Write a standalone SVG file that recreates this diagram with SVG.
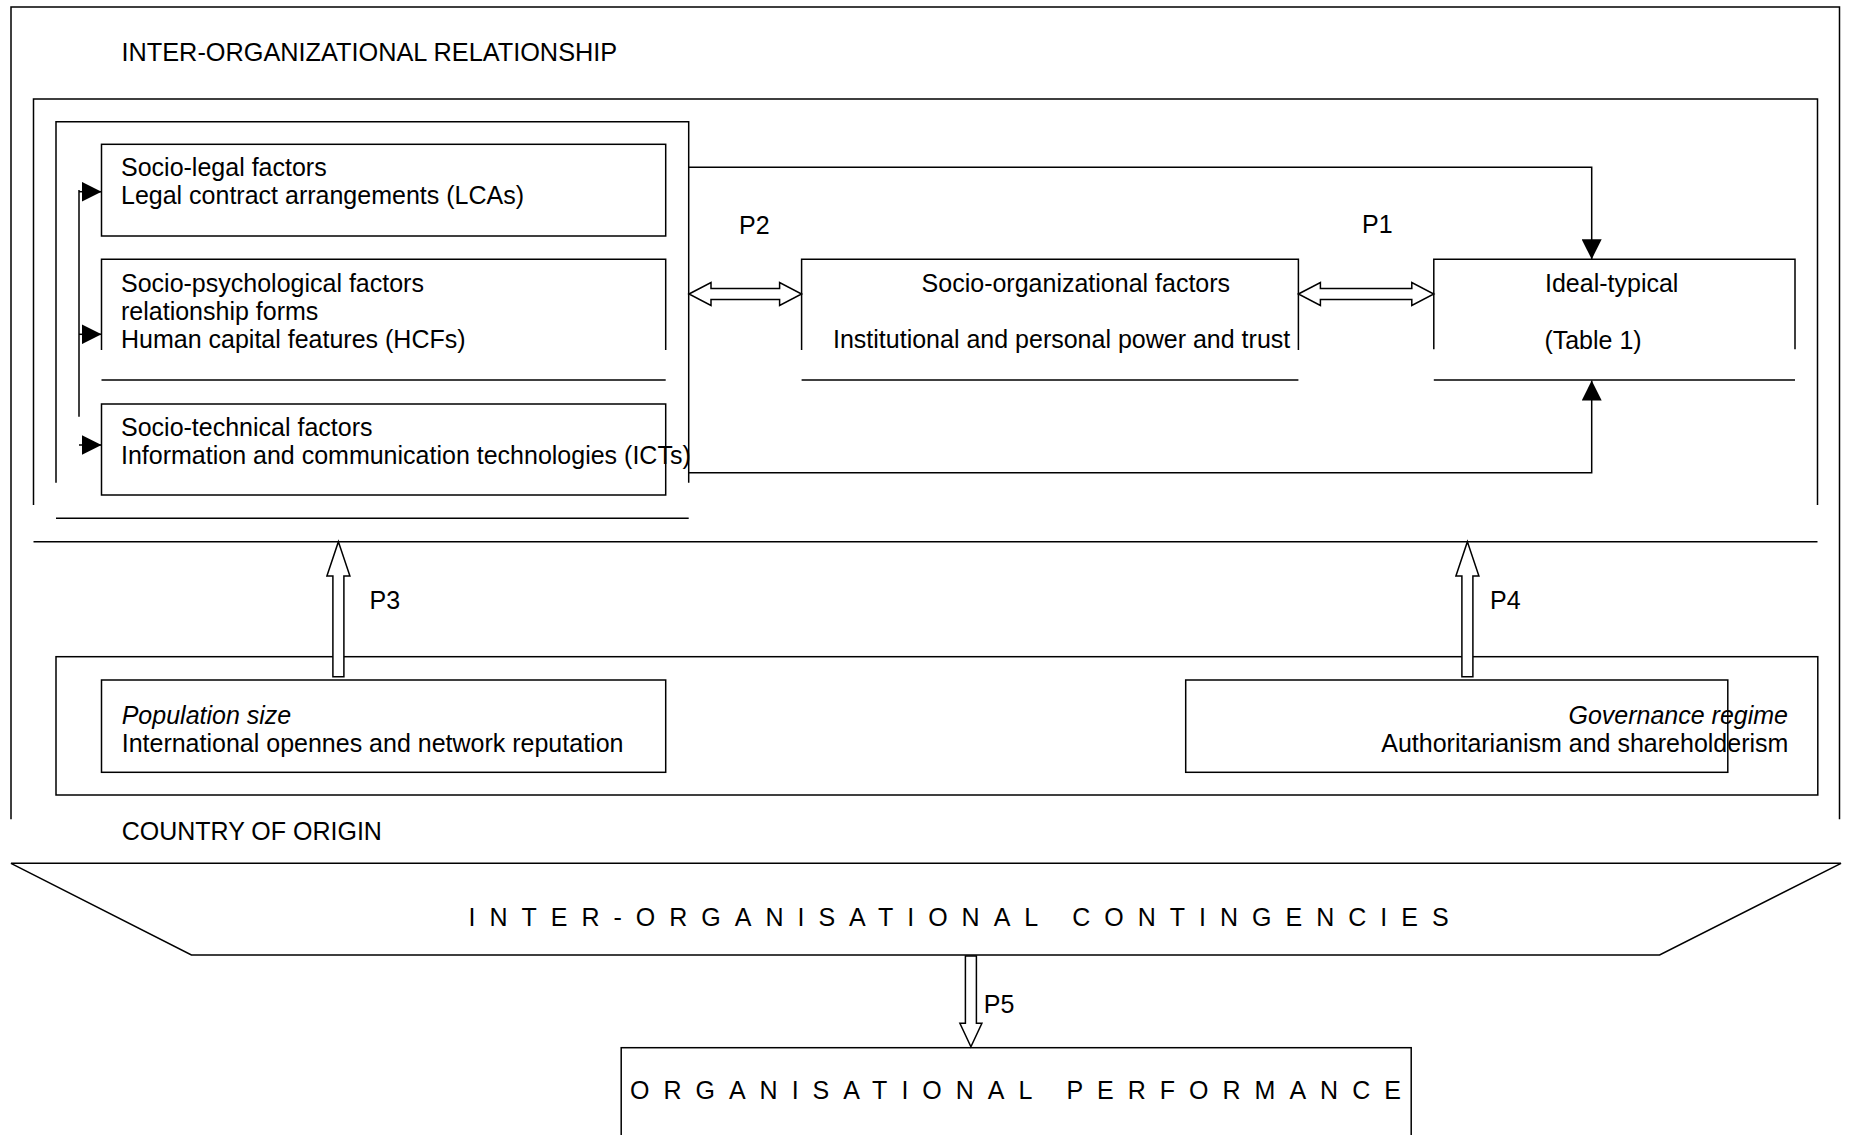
<svg xmlns="http://www.w3.org/2000/svg" width="1849" height="1135" viewBox="0 0 1849 1135">
<style>
.ln{fill:none;stroke:#000;stroke-width:1.5}
.bx{fill:none;stroke:#000;stroke-width:1.5}
.ho{fill:#fff;stroke:#000;stroke-width:1.5;stroke-linejoin:miter}
.t{font-family:"Liberation Sans",Arial,sans-serif;font-size:25px;fill:#000}
.it{font-style:italic}
.sp{letter-spacing:14px}
</style>
<defs>
<marker id="tri" markerUnits="userSpaceOnUse" markerWidth="20" markerHeight="20" viewBox="0 0 20 20" refX="20" refY="10" orient="auto">
<path d="M0,0 L20,10 L0,20 Z" fill="#000"/>
</marker>
</defs>
<rect x="0" y="0" width="1849" height="1135" fill="#fff"/>

<g id="frame-outer">
<path class="ln" d="M11,819.3 V7 H1839.5 V819.3"/>
</g>

<g id="inter-organizational-relationship">
<text class="t" x="121.5" y="60.7" style="font-size:25.3px">INTER-ORGANIZATIONAL RELATIONSHIP</text>
<path class="ln" d="M33.5,505 V99 H1817.5 V505"/>
<path class="ln" d="M33.5,541.7 H1817.5"/>
</g>

<g id="factors-group">
<path class="ln" d="M56,482.7 V121.7 H688.7 V482.7"/>
<path class="ln" d="M56,518.3 H688.7"/>
</g>

<g id="socio-legal">
<rect class="bx" x="101.5" y="144.3" width="564.2" height="91.7"/>
<text class="t" x="121" y="175.7">Socio-legal factors</text>
<text class="t" x="121" y="204.2">Legal contract arrangements (LCAs)</text>
</g>

<g id="socio-psychological">
<path class="ln" d="M101.5,350 V259.3 H665.7 V350"/>
<path class="ln" d="M101.5,380 H665.7"/>
<text class="t" x="121" y="291.7">Socio-psychological factors</text>
<text class="t" x="121" y="320">relationship forms</text>
<text class="t" x="121" y="348.3">Human capital features (HCFs)</text>
</g>

<g id="socio-technical">
<rect class="bx" x="101.5" y="404" width="564.2" height="91"/>
<text class="t" x="121" y="435.7">Socio-technical factors</text>
<text class="t" x="121" y="464.3">Information and communication technologies (ICTs)</text>
</g>

<g id="socio-organizational">
<path class="ln" d="M801.6,350 V259.3 H1298.4 V350"/>
<path class="ln" d="M801.6,380 H1298.4"/>
<text class="t" x="921.6" y="291.7">Socio-organizational factors</text>
<text class="t" x="833" y="348.3">Institutional and personal power and trust</text>
</g>

<g id="ideal-typical">
<path class="ln" d="M1433.8,349.3 V259.3 H1795 V349.3"/>
<path class="ln" d="M1433.8,380 H1795"/>
<text class="t" x="1545" y="291.7">Ideal-typical</text>
<text class="t" x="1544.4" y="349.3">(Table 1)</text>
</g>

<g id="country-of-origin">
<rect class="bx" x="56" y="656.7" width="1761.8" height="138.3"/>
<text class="t" x="121.7" y="840">COUNTRY OF ORIGIN</text>
</g>

<g id="population-size">
<rect class="bx" x="101.5" y="680" width="564.2" height="92.3"/>
<text class="t it" x="121.7" y="724">Population size</text>
<text class="t" x="121.7" y="752.3">International opennes and network reputation</text>
</g>

<g id="governance-regime">
<rect class="bx" x="1185.7" y="680" width="542.1" height="92.3"/>
<text class="t it" x="1788" y="724" text-anchor="end">Governance regime</text>
<text class="t" x="1788.4" y="752.3" text-anchor="end">Authoritarianism and shareholderism</text>
</g>

<g id="inter-organisational-contingencies">
<polygon class="bx" points="11,863.3 1841,863.3 1659.6,955 191.4,955"/>
<text class="t sp" x="468.5" y="926">INTER-ORGANISATIONAL CONTINGENCIES</text>
</g>

<g id="organisational-performance">
<rect class="bx" x="621.2" y="1047.7" width="790" height="100"/>
<text class="t sp" x="630" y="1099.3">ORGANISATIONAL PERFORMANCE</text>
</g>

<g id="connectors">
<path class="ln" d="M79,190 V416.7"/>
<path class="ln" d="M79,191.7 H101.5" marker-end="url(#tri)"/>
<path class="ln" d="M79,334.3 H101.5" marker-end="url(#tri)"/>
<path class="ln" d="M79,445 H101.5" marker-end="url(#tri)"/>
<path class="ln" d="M688.7,167.3 H1591.7 V259.3" marker-end="url(#tri)"/>
<path class="ln" d="M688.7,472.7 H1591.7 V380.5" marker-end="url(#tri)"/>
<polygon class="ho" points="689,294 711,282.5 711,288.5 779.6,288.5 779.6,282.5 801.6,294 779.6,305.5 779.6,299.5 711,299.5 711,305.5"/>
<polygon class="ho" points="1298.4,294 1320.4,282.5 1320.4,288.5 1411.8,288.5 1411.8,282.5 1433.8,294 1411.8,305.5 1411.8,299.5 1320.4,299.5 1320.4,305.5"/>
<polygon class="ho" points="338.4,541.7 349.9,576 343.9,576 343.9,676.7 332.9,676.7 332.9,576 326.9,576"/>
<polygon class="ho" points="1467.4,541.7 1478.9,576 1472.9,576 1472.9,676.7 1461.9,676.7 1461.9,576 1455.9,576"/>
<polygon class="ho" points="970.9,1046.7 959.9,1023.3 965.4,1023.3 965.4,956 976.4,956 976.4,1023.3 981.9,1023.3"/>
<text class="t" x="739" y="234">P2</text>
<text class="t" x="1362" y="233.3">P1</text>
<text class="t" x="369.6" y="609.3">P3</text>
<text class="t" x="1490" y="609.3">P4</text>
<text class="t" x="983.8" y="1012.7">P5</text>
</g>
</svg>
